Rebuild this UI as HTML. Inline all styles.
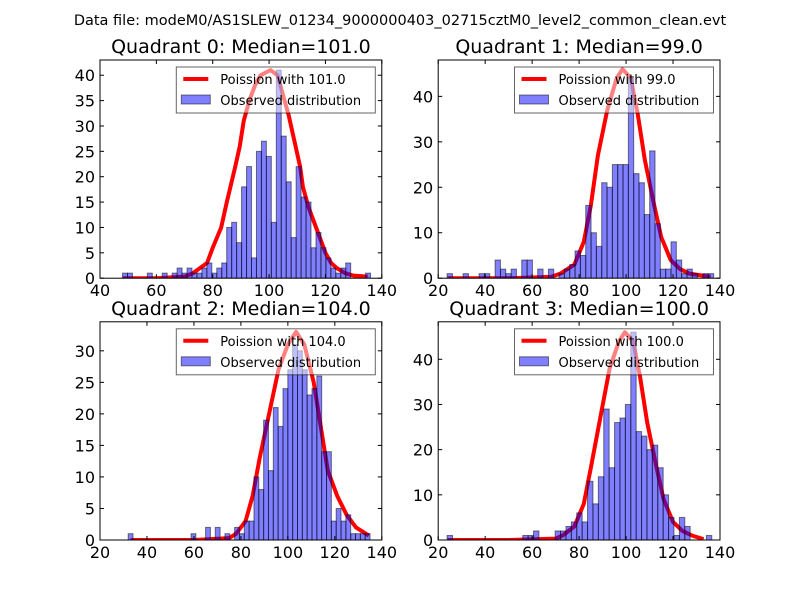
<!DOCTYPE html>
<html><head><meta charset="utf-8"><style>
html,body{margin:0;padding:0;background:#fff;}
svg{display:block;font-family:"DejaVu Sans","Liberation Sans",sans-serif;}
</style></head><body>
<svg id="fig" width="800" height="600" viewBox="0 0 800 600" xmlns="http://www.w3.org/2000/svg">
<rect width="800" height="600" fill="#fff"/>
<text x="400" y="25" text-anchor="middle" font-size="14.5">Data file: modeM0/AS1SLEW_01234_9000000403_02715cztM0_level2_common_clean.evt</text>
</svg>
<script>
// ---- data ----
const titles = ["Quadrant 0: Median=101.0","Quadrant 1: Median=99.0","Quadrant 2: Median=104.0","Quadrant 3: Median=100.0"];
const medians = ["101.0","99.0","104.0","100.0"];
const binStart = [48, 23.8, 32, 23.8];
const binEnd = [136, 137.3, 135, 136.5];
const counts0 = [1,1,0,0,0,1,0,0,1,0,1,2,1,2,1,1,2,3,1,2,3,10,11,7,18,22,4,25,27,24,11,41,28,19,8,22,16,15,6,9,6,4,2,1,2,3,0,0,0,1];
const counts1 = [1,0,0,1,0,0,1,1,0,4,2,1,2,0,4,4,0,2,0,2,0,1,2,3,6,5,16,10,7,21,20,25,25,25,44,23,21,14,28,12,2,2,8,4,1,2,1,0,1,1];
const counts2 = [1,0,0,0,0,0,0,0,0,0,0,0,0,1,0,0,2,0,2,0,1,0,2,1,3,3,10,8,19,11,21,18,24,27,31,30,27,23,24,26,14,14,3,5,3,4,1,1,1,1];
const counts3 = [1,0,0,0,0,0,0,0,0,0,0,0,0,0,1,1,2,0,0,0,2,2,3,4,6,4,13,8,14,29,16,26,27,30,46,24,23,20,21,16,10,5,1,5,3,0,0,0,1];
const curveX0 = [48,60,70,73,78,80,83,85,88,89.6,91,93,95,97,100.5,103,105,107,109,111,112,114,116,118,120,122,124,127,130,135];
const curveY0 = [0,0,0.3,1,3,6,10,15,22,26,31,35,38,40,41,40,36,32,27,22,18,14,11,8,5,3,2,1,0.5,0.3];
const curveX1 = [24,50,68,72,78,82,85,88,92,96,98.5,102,105,108,112,115,119,123,127,136];
const curveY1 = [0,0,0.3,1,3,8,16,27,37,44,46,44,36,26,16,9,4,2,1,0.3];
const curveX2 = [33,60,75,78,82,85,88,92,96,100,103.5,107,111,114,117,121,125,129,134.5];
const curveY2 = [0,0,0.3,1,3,7,13,20,27,31,33,31,25,18,11,7,4,2,0.7];
const curveX3 = [24,50,70,73,78,82,85,89,93,97,99.5,103,106,109,113,116,120,124,128,133];
const curveY3 = [0,0,0.3,1,3,8,16,27,38,44,46,44,36,26,16,9,4,2,1,0.2];
const xTicks0 = [40,60,80,100,120,140];
const xTicks1 = [20,40,60,80,100,120,140];
const yTicks0 = [0,5,10,15,20,25,30,35,40];
const yTicks1 = [0,10,20,30,40];
const yTicks2 = [0,5,10,15,20,25,30];
const yTicks3 = [0,10,20,30,40];
const xMin = [40,20,20,20], xMax = [140,140,140,140];
const yMax = [43,48,34.6,48.3];

const countsAll=[counts0,counts1,counts2,counts3];
const cxAll=[curveX0,curveX1,curveX2,curveX3], cyAll=[curveY0,curveY1,curveY2,curveY3];
const xtAll=[xTicks0,xTicks1,xTicks1,xTicks1], ytAll=[yTicks0,yTicks1,yTicks2,yTicks3];
const boxes=[[100,60,281.8,218.2],[438.2,60,281.8,218.2],[100,321.8,281.8,218.2],[438.2,321.8,281.8,218.2]];
const NS="http://www.w3.org/2000/svg";
const fig=document.getElementById('fig');
function mk(tag,attrs,parent){const e=document.createElementNS(NS,tag);for(const k in attrs)e.setAttribute(k,attrs[k]);(parent||fig).appendChild(e);return e;}

for(let p=0;p<4;p++){
  const [L,T,W,H]=boxes[p];
  const g=mk('g',{});
  
  
  const sx=v=>L+(v-xMin[p])/(xMax[p]-xMin[p])*W;
  const sy=v=>T+H-v/yMax[p]*H;
  const clipId='clip'+p;
  const cp=mk('clipPath',{id:clipId},g);mk('rect',{x:L,y:T,width:W,height:H},cp);
  const plot=mk('g',{'clip-path':'url(#'+clipId+')'},g);
  // curve
  const cx=cxAll[p],cy=cyAll[p];
  let d='';for(let i=0;i<cx.length;i++)d+=(i?'L':'M')+sx(cx[i]).toFixed(2)+','+sy(cy[i]).toFixed(2);
  const line=mk('path',{d:d,fill:'none',stroke:'#ff0000','stroke-width':4,'stroke-linejoin':'round'},plot);
  
  
  // bars
  const c=countsAll[p];const bw=(binEnd[p]-binStart[p])/c.length;
  for(let i=0;i<c.length;i++){
    if(c[i]<=0)continue;
    const x0=sx(binStart[p]+i*bw),x1=sx(binStart[p]+(i+1)*bw);
    const r=mk('rect',{x:x0,y:sy(c[i]),width:x1-x0,height:sy(0)-sy(c[i]),fill:'rgba(0,0,255,0.5)',stroke:'rgba(0,0,0,0.5)','stroke-width':1},plot);
    
    
  }
  // frame
  const fr=mk('rect',{x:L,y:T,width:W,height:H,fill:'none',stroke:'#000','stroke-width':1},g);
  
  
  // x ticks
  for(const t of xtAll[p]){const x=sx(t);
    mk('line',{x1:x,y1:T+H,x2:x,y2:T+H-4,stroke:'#000'},g);
    mk('line',{x1:x,y1:T,x2:x,y2:T+4,stroke:'#000'},g);
    const tx=mk('text',{x:x,y:T+H+18,'text-anchor':'middle','font-size':16},g);tx.textContent=t;
    
    
  }
  for(const t of ytAll[p]){const y=sy(t);
    mk('line',{x1:L,y1:y,x2:L+4,y2:y,stroke:'#000'},g);
    mk('line',{x1:L+W,y1:y,x2:L+W-4,y2:y,stroke:'#000'},g);
    const ty=mk('text',{x:L-5,y:y+6,'text-anchor':'end','font-size':16},g);ty.textContent=t;
    
    
  }
  const tt=mk('text',{x:L+W/2,y:T-7,'text-anchor':'middle','font-size':19},g);tt.textContent=titles[p];
  
  
  // legend
  const lg=mk('g',{},g);
  
  
  const lx=L+W-205.5, ly=T+7;
  mk('rect',{x:lx,y:ly,width:199,height:46,fill:'rgba(255,255,255,0.5)',stroke:'#000','stroke-opacity':0.6},lg);
  mk('line',{x1:lx+7,y1:ly+12,x2:lx+32,y2:ly+12,stroke:'#ff0000','stroke-width':4},lg);
  const t1=mk('text',{x:lx+44,y:ly+17,'font-size':13},lg);t1.textContent='Poission with '+medians[p];
  
  
  mk('rect',{x:lx+5,y:ly+28,width:29,height:9,fill:'rgba(0,0,255,0.5)',stroke:'rgba(0,0,0,0.5)'},lg);
  const t2=mk('text',{x:lx+44,y:ly+38,'font-size':13},lg);t2.textContent='Observed distribution';
  
  
}
</script>
</body></html>
